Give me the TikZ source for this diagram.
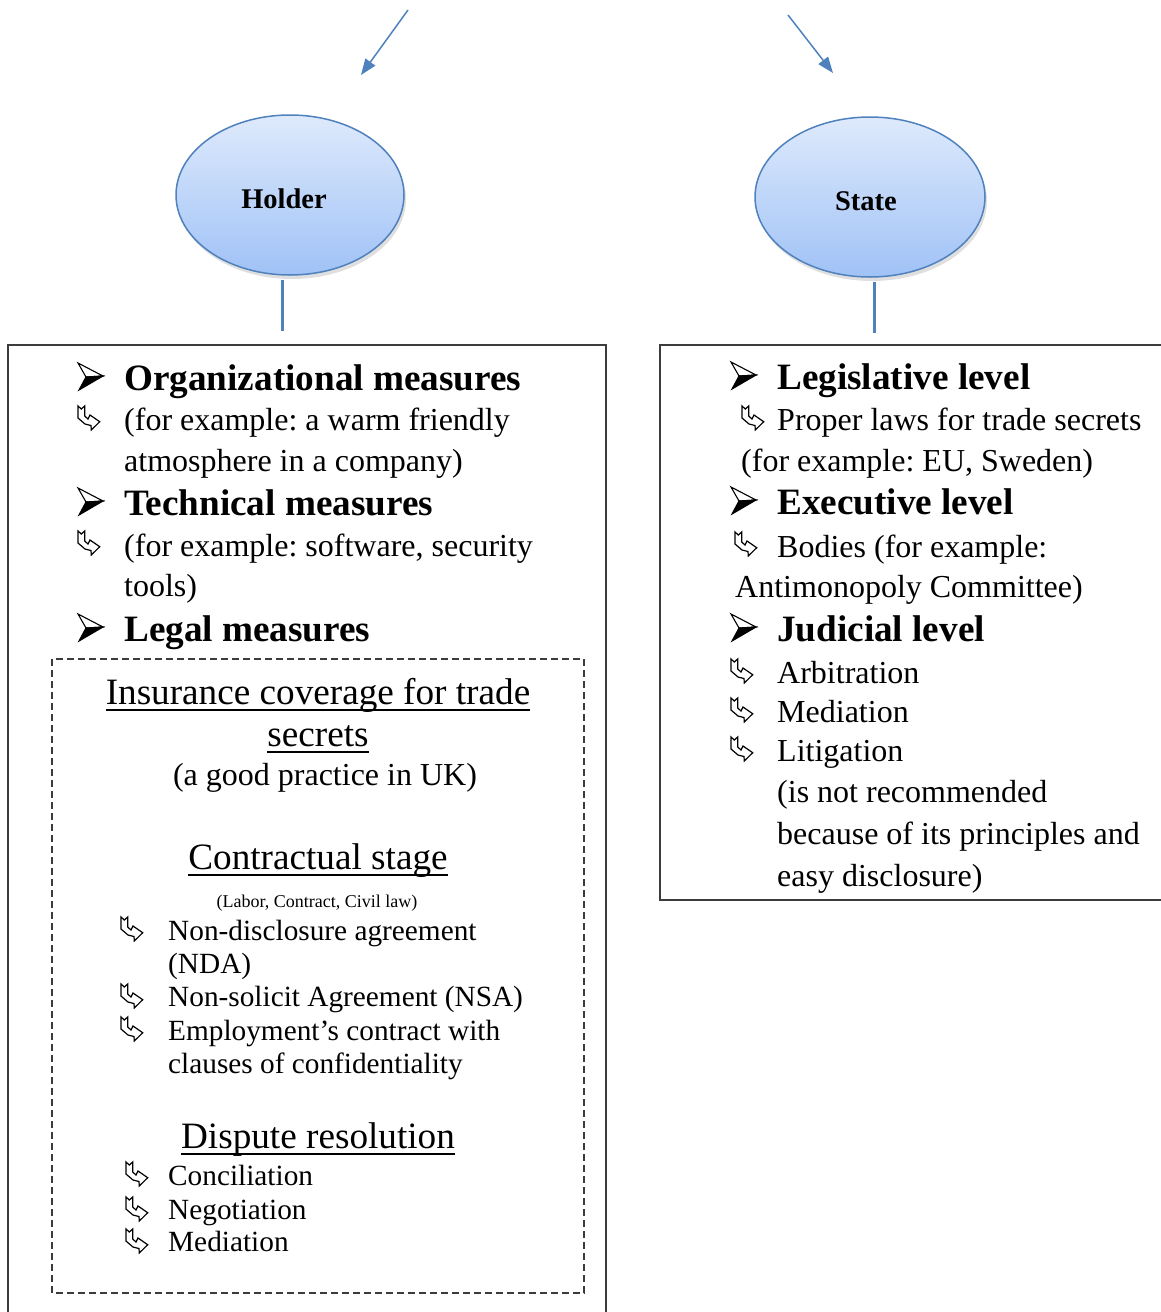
\documentclass[tikz,border=0pt]{standalone}
\usepackage{fontspec}
\setmainfont{Liberation Serif}
\usetikzlibrary{shapes.geometric,shadows,arrows.meta}
\definecolor{obl}{RGB}{79,129,189}
\definecolor{eltop}{RGB}{222,234,252}
\definecolor{elbot}{RGB}{160,194,246}
\definecolor{frame}{RGB}{60,60,60}
\frenchspacing
\tikzset{
  x=1pt, y=-1pt,
  body/.style={anchor=base west, inner sep=0pt, font=\fontsize{32}{38}\selectfont},
  sbody/.style={anchor=base west, inner sep=0pt, font=\fontsize{29.3}{35}\selectfont},
  head/.style={anchor=base west, inner sep=0pt, font=\fontsize{37.2}{44}\selectfont\bfseries},
  ttl/.style={anchor=base, inner sep=0pt, font=\fontsize{37.2}{44}\selectfont},
  ctr/.style={anchor=base, inner sep=0pt, font=\fontsize{32}{38}\selectfont},
  tiny/.style={anchor=base, inner sep=0pt, font=\fontsize{18}{22}\selectfont},
  blob/.style={ellipse, draw=obl, line width=1.5pt, top color=eltop, bottom color=elbot,
     drop shadow={shadow xshift=2pt, shadow yshift=-4pt, opacity=0.25}},
  blobtext/.style={inner sep=0pt, font=\fontsize{28.5}{34}\selectfont\bfseries},
  conn/.style={obl, line width=3pt},
  feed/.style={obl, line width=1.5pt, -{Triangle[length=16pt,width=12pt]}},
  frm/.style={frame, line width=1.6pt},
  underl/.style={black, line width=1.8pt},
  hookbul/.pic={\draw[black, line width=1.2pt, fill=white, line join=miter]
     (0,0) -- (3.3,3) -- (6.7,0) -- (6.7,10) -- (10,13) -- (12,9) -- (21.7,15.7) -- (13.3,24) -- (13,19.5) -- (7,18) -- (0,12) -- cycle;},
  arrbul/.pic={\draw[black, line width=1.1pt, line join=miter] (0,0) -- (25,13) -- (8,14) -- cycle;
     \fill[black] (8,14) -- (25,13) -- (1,27) -- cycle;
     \draw[black, line width=1.1pt, line join=miter] (8,14) -- (25,13) -- (1,27) -- cycle;}
}
\begin{document}
\begin{tikzpicture}
\useasboundingbox (0,0) rectangle (1160,1312);

% top arrows
\coordinate (a1s) at (408,10);
\coordinate (a1e) at (361,75);
\coordinate (a2s) at (788,15);
\coordinate (a2e) at (833,73);
\draw[feed] (a1s) -- (a1e);
\draw[feed] (a2s) -- (a2e);

% ellipses
\node[blob, minimum width=228, minimum height=160] (holder) at (290,195) {};
\node[blobtext] (holdert) at (284,199) {Holder};
\node[blob, minimum width=230, minimum height=160] (state) at (870,197) {};
\node[blobtext] (statet) at (866,201) {State};

\coordinate (hc1) at (282,280);
\coordinate (hc2) at (282,331);
\coordinate (sc1) at (874,282);
\coordinate (sc2) at (874,333);
\draw[conn] (hc1) -- (hc2);
\draw[conn] (sc1) -- (sc2);

% frames
\draw[frm] (8,1330) -- (8,345) -- (606,345) -- (606,1330);
\draw[frm] (1175,345) -- (660,345) -- (660,900) -- (1175,900);
\draw[frame, line width=1.5pt, dash pattern=on 7pt off 4pt] (52,659) rectangle (584,1293);

% left column
\pic at (78,363) {arrbul};
\node[head] (l1) at (124,390) {Organizational measures};
\pic at (78,406) {hookbul};
\node[body] (l2) at (124,430) {(for example: a warm friendly};
\node[body] (l3) at (124,471) {atmosphere in a company)};
\pic at (78,488) {arrbul};
\node[head] (l4) at (124,515) {Technical measures};
\pic at (78,531) {hookbul};
\node[body] (l5) at (124,556) {(for example: software, security};
\node[body] (l6) at (124,596) {tools)};
\pic at (78,614) {arrbul};
\node[head] (l7) at (124,641) {Legal measures};

% dashed box content
\node[ttl] (d1) at (318,704) {Insurance coverage for trade};
\draw[underl] ([yshift=-6pt]d1.base west) -- ([yshift=-6pt]d1.base east);
\node[ttl] (d2) at (318,746) {secrets};
\draw[underl] ([yshift=-6pt]d2.base west) -- ([yshift=-6pt]d2.base east);
\node[ctr] (d3) at (325,785) {(a good practice in UK)};
\node[tiny] (d5) at (317,907) {(Labor, Contract, Civil law)};
\node[ttl] (d4) at (318,869) {Contractual stage};
\draw[underl] ([yshift=-6pt]d4.base west) -- ([yshift=-6pt]d4.base east);
\pic at (121,917) {hookbul};
\node[sbody] (d6) at (168,940) {Non-disclosure agreement};
\node[sbody] (d7) at (168,973) {(NDA)};
\pic at (121,984) {hookbul};
\node[sbody] (d8) at (168,1006) {Non-solicit Agreement (NSA)};
\pic at (121,1017) {hookbul};
\node[sbody] (d9) at (168,1040) {Employment’s contract with};
\node[sbody] (d10) at (168,1073) {clauses of confidentiality};
\node[ttl] (d11) at (318,1148) {Dispute resolution};
\draw[underl] ([yshift=-6pt]d11.base west) -- ([yshift=-6pt]d11.base east);
\pic at (126,1162) {hookbul};
\node[sbody] (d12) at (168,1185) {Conciliation};
\pic at (126,1197) {hookbul};
\node[sbody] (d13) at (168,1219) {Negotiation};
\pic at (126,1229) {hookbul};
\node[sbody] (d14) at (168,1251) {Mediation};

% right column
\pic at (731,362) {arrbul};
\node[head] (r1) at (777,389) {Legislative level};
\pic at (742,406) {hookbul};
\node[body] (r2) at (777,430) {Proper laws for trade secrets};
\node[body] (r3) at (741,471) {(for example: EU, Sweden)};
\pic at (731,487) {arrbul};
\node[head] (r4) at (777,514) {Executive level};
\pic at (735,532) {hookbul};
\node[body] (r5) at (777,557) {Bodies (for example:};
\node[body] (r6) at (735,597) {Antimonopoly Committee)};
\pic at (731,614) {arrbul};
\node[head] (r7) at (777,641) {Judicial level};
\pic at (731,659) {hookbul};
\node[body] (r8) at (777,683) {Arbitration};
\pic at (731,698) {hookbul};
\node[body] (r9) at (777,722) {Mediation};
\pic at (731,737) {hookbul};
\node[body] (r10) at (777,761) {Litigation};
\node[body] (r11) at (777,802) {(is not recommended};
\node[body] (r12) at (777,844) {because of its principles and};
\node[body] (r13) at (777,886) {easy disclosure)};
\end{tikzpicture}
\end{document}
